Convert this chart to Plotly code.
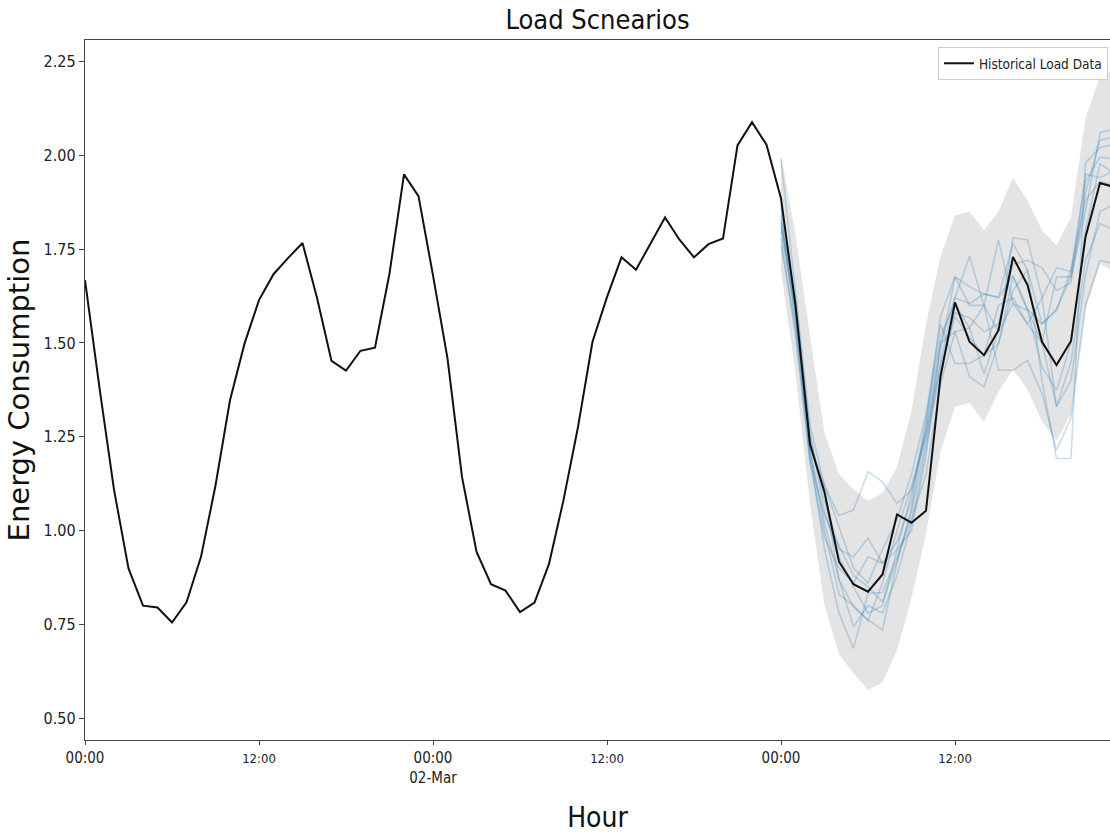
import pandas as pd
import plotly.graph_objects as go

# ---- data -------------------------------------------------------------
start = pd.Timestamp("2020-03-01 00:00")
hours = pd.date_range(start, periods=72, freq="h")

load = [
    1.667, 1.38, 1.109, 0.899, 0.80, 0.795, 0.755, 0.809, 0.930, 1.12,
    1.347, 1.498, 1.614, 1.683, 1.726, 1.766, 1.62, 1.452, 1.426, 1.479,
    1.487, 1.685, 1.949, 1.891, 1.68, 1.459, 1.143, 0.944, 0.857, 0.840,
    0.783, 0.808, 0.911, 1.081, 1.276, 1.503, 1.622, 1.728, 1.695, 1.765,
    1.834, 1.775, 1.728, 1.763, 1.778, 2.026, 2.088, 2.028, 1.885, 1.60,
    1.23, 1.103, 0.917, 0.857, 0.837, 0.883, 1.043, 1.021, 1.053, 1.41,
    1.608, 1.503, 1.467, 1.534, 1.729, 1.654, 1.503, 1.441, 1.505, 1.782,
    1.926, 1.915,
]

# scenario window: last 24 hours
scen_hours = hours[48:]

band_upper = [2.00, 1.79, 1.52, 1.26, 1.15, 1.11, 1.08, 1.10, 1.17, 1.32, 1.55, 1.73,
              1.84, 1.85, 1.80, 1.85, 1.94, 1.88, 1.80, 1.76, 1.835, 2.10, 2.21, 2.23]
band_lower = [1.69, 1.42, 1.07, 0.80, 0.67, 0.62, 0.575, 0.595, 0.68, 0.82, 0.99, 1.21,
              1.33, 1.34, 1.29, 1.37, 1.43, 1.375, 1.29, 1.24, 1.31, 1.59, 1.71, 1.69]

scenario_1 = [1.99, 1.64, 1.28, 1.12, 1.04, 1.055, 1.157, 1.13, 1.072, 1.108, 1.25, 1.45,
              1.62, 1.605, 1.63, 1.62, 1.68, 1.59, 1.55, 1.59, 1.676, 1.85, 2.06, 2.07]
scenario_2 = [1.86, 1.60, 1.25, 1.08, 0.95, 0.93, 0.98, 0.913, 0.948, 1.00, 1.20, 1.50,
              1.62, 1.731, 1.60, 1.53, 1.605, 1.587, 1.436, 1.374, 1.50, 1.80, 1.977, 1.95]
scenario_3 = [1.84, 1.55, 1.20, 0.95, 0.78, 0.686, 0.833, 0.835, 0.93, 1.03, 1.15, 1.39,
              1.53, 1.54, 1.418, 1.534, 1.78, 1.774, 1.622, 1.33, 1.45, 1.72, 1.818, 1.80]
scenario_4 = [1.80, 1.58, 1.22, 1.02, 0.87, 0.797, 0.762, 0.735, 0.913, 1.06, 1.28, 1.57,
              1.676, 1.65, 1.63, 1.622, 1.765, 1.694, 1.40, 1.192, 1.192, 1.98, 2.02, 2.03]
scenario_5 = [1.82, 1.62, 1.24, 1.10, 0.868, 0.744, 0.80, 0.78, 0.88, 1.02, 1.22, 1.43,
              1.57, 1.515, 1.467, 1.498, 1.64, 1.694, 1.551, 1.587, 1.694, 1.93, 1.995, 1.99]
scenario_6 = [1.78, 1.52, 1.18, 0.98, 0.90, 0.86, 0.93, 0.913, 0.97, 1.08, 1.30, 1.52,
              1.605, 1.54, 1.60, 1.427, 1.427, 1.454, 1.365, 1.214, 1.30, 1.60, 1.72, 1.71]
scenario_7 = [1.87, 1.60, 1.26, 1.05, 0.93, 0.85, 0.78, 0.80, 0.95, 1.10, 1.27, 1.50,
              1.53, 1.41, 1.383, 1.498, 1.676, 1.59, 1.50, 1.676, 1.676, 1.95, 1.94, 1.96]
scenario_8 = [1.83, 1.57, 1.23, 1.12, 1.01, 0.90, 0.86, 0.95, 1.03, 1.15, 1.31, 1.55,
              1.445, 1.445, 1.467, 1.60, 1.62, 1.55, 1.62, 1.70, 1.69, 1.88, 1.93, 1.92]
scenario_9 = [1.81, 1.59, 1.21, 1.00, 0.83, 0.80, 0.76, 0.86, 1.00, 1.12, 1.26, 1.48,
              1.676, 1.60, 1.60, 1.774, 1.605, 1.55, 1.50, 1.33, 1.40, 1.68, 1.85, 1.87]
scenario_10 = [1.76, 1.54, 1.19, 1.04, 0.96, 0.88, 0.85, 0.81, 0.92, 1.05, 1.24, 1.44,
               1.58, 1.567, 1.53, 1.55, 1.71, 1.72, 1.70, 1.64, 1.66, 1.90, 2.04, 2.05]

scenarios = [scenario_1, scenario_2, scenario_3, scenario_4, scenario_5,
             scenario_6, scenario_7, scenario_8, scenario_9, scenario_10]

tick_hours = [0, 12, 24, 36, 48, 60]
tick_labels = [
    "<span style='font-size:15px'>00:00</span>",
    "<span style='font-size:13px'>12:00</span>",
    "<span style='font-size:15px'>00:00</span><br><span style='font-size:15px'>02-Mar</span>",
    "<span style='font-size:13px'>12:00</span>",
    "<span style='font-size:15px'>00:00</span>",
    "<span style='font-size:13px'>12:00</span>",
]

y_ticks = [0.50, 0.75, 1.00, 1.25, 1.50, 1.75, 2.00, 2.25]

# ---- figure -----------------------------------------------------------
FONT = "DejaVu Sans Condensed, Liberation Sans Narrow, DejaVu Sans, sans-serif"

fig = go.Figure()

# uncertainty band
fig.add_trace(go.Scatter(
    x=scen_hours, y=band_upper, mode="lines", line=dict(width=0),
    showlegend=False, hoverinfo="skip",
))
fig.add_trace(go.Scatter(
    x=scen_hours, y=band_lower, mode="lines", line=dict(width=0),
    fill="tonexty", fillcolor="rgba(0,0,0,0.105)",
    showlegend=False, hoverinfo="skip",
))

# individual scenarios
for s in scenarios:
    fig.add_trace(go.Scatter(
        x=scen_hours, y=s, mode="lines",
        line=dict(color="rgba(31,119,180,0.24)", width=1.6),
        showlegend=False,
    ))

# historical load
fig.add_trace(go.Scatter(
    x=hours, y=load, mode="lines", name="Historical Load Data",
    line=dict(color="#111111", width=2),
))

x_end = start + pd.Timedelta(hours=70.69)

fig.update_layout(
    width=1110, height=834,
    margin=dict(l=85, r=0, t=40, b=94),
    paper_bgcolor="white", plot_bgcolor="white",
    font=dict(family=FONT, color="#222222", size=15),
    title=dict(
        text="Load Scnearios", x=(85 + 1110) / 2 / 1110, xanchor="center",
        y=1 - 20 / 834, yanchor="middle",
        font=dict(family=FONT, size=27, color="#111111"),
    ),
    legend=dict(
        x=0.998, xanchor="right", y=0.99, yanchor="top",
        bgcolor="rgba(255,255,255,0.85)", bordercolor="#cccccc", borderwidth=1,
        font=dict(family=FONT, size=13.5, color="#222222"),
        itemwidth=30,
    ),
    showlegend=True,
)

fig.update_xaxes(
    type="date", range=[start, x_end],
    tickmode="array", tickvals=[start + pd.Timedelta(hours=h) for h in tick_hours],
    ticktext=tick_labels,
    showgrid=False, zeroline=False,
    showline=True, linecolor="#444444", linewidth=1.3, mirror=True,
    ticks="outside", ticklen=4, tickcolor="#444444",
    title=dict(text="Hour", font=dict(family=FONT, size=28, color="#111111"), standoff=25),
    automargin=False,
)

fig.update_yaxes(
    range=[0.442, 2.307],
    tickmode="array", tickvals=y_ticks, ticktext=[f"{v:.2f}" for v in y_ticks],
    tickfont=dict(size=16),
    showgrid=False, zeroline=False,
    showline=True, linecolor="#444444", linewidth=1.3,
    ticks="outside", ticklen=5, tickcolor="#444444",
    title=dict(text="Energy Consumption",
               font=dict(family="DejaVu Sans, sans-serif", size=29, color="#111111"),
               standoff=5),
    automargin=False,
)

fig.write_html("out.html", config={"displayModeBar": False})
